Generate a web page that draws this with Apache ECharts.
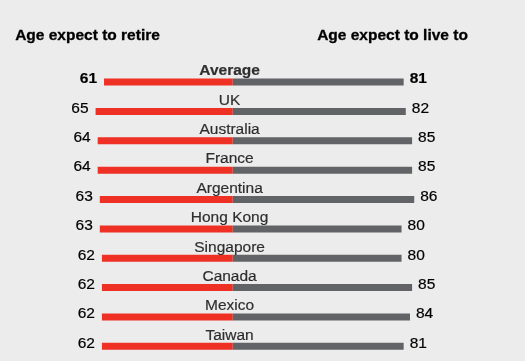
<!DOCTYPE html>
<html>
<head>
<meta charset="utf-8">
<script src="https://cdn.jsdelivr.net/npm/echarts@6/dist/echarts.min.js"></script>
<style>
html,body{margin:0;padding:0;background:#ececec;}
#c{width:525px;height:361px;}
</style>
</head>
<body>
<div id="c"></div>
<script>
const categories = ['Average','UK','Australia','France','Argentina','Hong Kong','Singapore','Canada','Mexico','Taiwan'];
const retireAge = [61,65,64,64,63,63,62,62,62,62];
const liveAge = [81,82,85,85,86,80,80,85,84,81];
const titleLeft = 'Age expect to retire';
const titleRight = 'Age expect to live to';

const FONT = '"Liberation Sans", Arial, sans-serif';
const chart = echarts.init(document.getElementById('c'), null, {renderer:'canvas'});
const isBold = i => categories[i] === 'Average';
const stroke = {textBorderColor:'#000', textBorderWidth:0.2};

chart.setOption({
  backgroundColor: '#ececec',
  animation: false,
  textStyle: {fontFamily: FONT},
  graphic: [
    {type:'text', left: 15, top: 27.5, style:{text: titleLeft, font: 'bold 15.5px ' + FONT, fill:'#000', stroke:'#000', lineWidth:0.3}},
    {type:'text', left: 317, top: 27.5, style:{text: titleRight, font: 'bold 15.5px ' + FONT, fill:'#000', stroke:'#000', lineWidth:0.3}}
  ],
  grid: {left: 0, right: 0, top: 67.4, height: 298, containLabel: false},
  xAxis: {type:'value', min: -110.3, max: 138.5, show: false},
  yAxis: {type:'category', data: categories, inverse: true, show: false},
  series: [
    {
      type:'bar', silent:true, barWidth: 7, barGap: '-100%',
      itemStyle:{color:'#ee3124'},
      data: retireAge.map((v,i)=>({value:-v, label:{fontWeight: isBold(i)?'bold':'normal'}})),
      label:Object.assign({show:true, position:'left', distance:7, offset:[0,-3], color:'#000', fontSize:15.5, fontFamily:FONT,
        formatter: p => String(retireAge[p.dataIndex])}, stroke)
    },
    {
      type:'bar', silent:true, barWidth: 7, barGap: '-100%',
      itemStyle:{color:'#626366'},
      data: liveAge.map((v,i)=>({value:v, label:{fontWeight: isBold(i)?'bold':'normal'}})),
      label:Object.assign({show:true, position:'right', distance:6, offset:[0,-3], color:'#000', fontSize:15.5, fontFamily:FONT,
        formatter: p => String(liveAge[p.dataIndex])}, stroke)
    },
    {
      type:'scatter', silent:true, symbolSize: 0,
      data: categories.map((c,i)=>({value:[-1.5, i], label:{fontWeight: isBold(i)?'bold':'normal'}})),
      label:Object.assign({show:true, position:'inside', offset:[0,-11], color:'#000', fontSize:15.5, fontFamily:FONT,
        formatter: p => categories[p.dataIndex]}, stroke)
    }
  ]
});
</script>
</body>
</html>
